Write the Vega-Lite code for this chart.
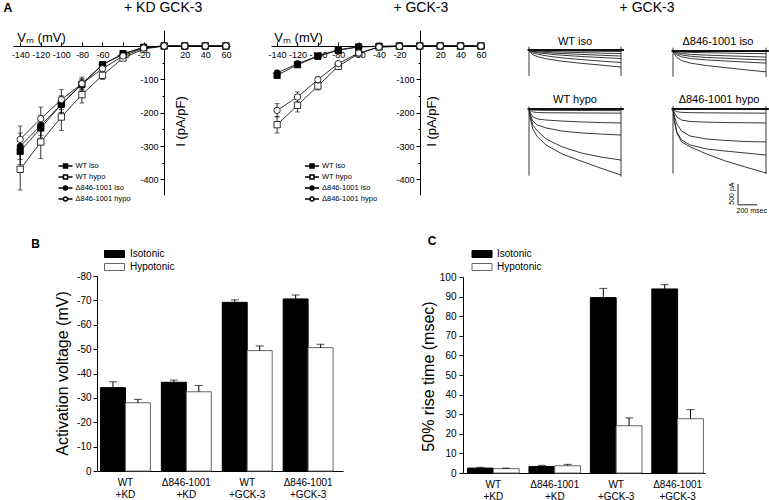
{
"$schema":"https://vega.github.io/schema/vega-lite/v6.json",
"width":769,"height":500,"autosize":{"type":"none"},"padding":0,"background":"white",
"config":{"view":{"stroke":null},"font":"Liberation Sans",
 "axis":{"grid":false,"domainColor":"black","tickColor":"black","labelColor":"black","titleColor":"black","titleFontWeight":"normal","labelFont":"Liberation Sans","titleFont":"Liberation Sans","labelFlush":false,"labelOverlap":false,"domainWidth":1,"tickWidth":1},
 "legend":{"labelFont":"Liberation Sans","labelColor":"black","padding":0},
 "text":{"font":"Liberation Sans","color":"black"}},
"resolve":{"scale":{"x":"independent","y":"independent","fill":"independent","shape":"independent","stroke":"independent","xOffset":"independent"},"axis":{"x":"independent","y":"independent"},"legend":{"fill":"independent","shape":"independent","stroke":"independent"}},
"layer":[
{
 "data":{"values":[
  {"s":"WT iso","v":-140,"i":-316,"e":40},{"s":"WT iso","v":-120,"i":-246,"e":30},{"s":"WT iso","v":-100,"i":-175,"e":25},{"s":"WT iso","v":-80,"i":-115,"e":15},{"s":"WT iso","v":-60,"i":-56,"e":8},{"s":"WT iso","v":-40,"i":-23,"e":5},{"s":"WT iso","v":-20,"i":-4,"e":2},{"s":"WT iso","v":0,"i":0,"e":0},{"s":"WT iso","v":20,"i":0,"e":0},{"s":"WT iso","v":40,"i":0,"e":0},{"s":"WT iso","v":60,"i":0,"e":0},
  {"s":"WT hypo","v":-140,"i":-370,"e":62},{"s":"WT hypo","v":-120,"i":-288,"e":50},{"s":"WT hypo","v":-100,"i":-213,"e":40},{"s":"WT hypo","v":-80,"i":-146,"e":25},{"s":"WT hypo","v":-60,"i":-88,"e":12},{"s":"WT hypo","v":-40,"i":-36,"e":6},{"s":"WT hypo","v":-20,"i":-9,"e":3},{"s":"WT hypo","v":0,"i":0,"e":0},{"s":"WT hypo","v":20,"i":0,"e":0},{"s":"WT hypo","v":40,"i":0,"e":0},{"s":"WT hypo","v":60,"i":0,"e":0},
  {"s":"Δ846-1001 iso","v":-140,"i":-301,"e":40},{"s":"Δ846-1001 iso","v":-120,"i":-238,"e":30},{"s":"Δ846-1001 iso","v":-100,"i":-175,"e":25},{"s":"Δ846-1001 iso","v":-80,"i":-113,"e":15},{"s":"Δ846-1001 iso","v":-60,"i":-56,"e":8},{"s":"Δ846-1001 iso","v":-40,"i":-25,"e":4},{"s":"Δ846-1001 iso","v":-20,"i":-4,"e":2},{"s":"Δ846-1001 iso","v":0,"i":0,"e":0},{"s":"Δ846-1001 iso","v":20,"i":0,"e":0},{"s":"Δ846-1001 iso","v":40,"i":0,"e":0},{"s":"Δ846-1001 iso","v":60,"i":0,"e":0},
  {"s":"Δ846-1001 hypo","v":-140,"i":-280,"e":40},{"s":"Δ846-1001 hypo","v":-120,"i":-218,"e":35},{"s":"Δ846-1001 hypo","v":-100,"i":-161,"e":30},{"s":"Δ846-1001 hypo","v":-80,"i":-113,"e":20},{"s":"Δ846-1001 hypo","v":-60,"i":-68,"e":10},{"s":"Δ846-1001 hypo","v":-40,"i":-30,"e":5},{"s":"Δ846-1001 hypo","v":-20,"i":-6,"e":2},{"s":"Δ846-1001 hypo","v":0,"i":0,"e":0},{"s":"Δ846-1001 hypo","v":20,"i":0,"e":0},{"s":"Δ846-1001 hypo","v":40,"i":0,"e":0},{"s":"Δ846-1001 hypo","v":60,"i":0,"e":0}
 ]},
 "layer":[
  {"mark":{"type":"line","color":"black","strokeWidth":0.8},
   "encoding":{
    "x":{"field":"v","type":"quantitative","title":"Vₘ (mV)","scale":{"domain":[-147,64],"range":[13,230],"nice":false,"zero":false},
      "axis":{"orient":"bottom","offset":-454,"values":[-140,-130,-120,-110,-100,-90,-80,-70,-60,-50,-40,-30,-20,-10,0,10,20,30,40,50,60],"labelExpr":"datum.value % 20 == 0 && datum.value != 0 ? '' + datum.value : ''","tickSize":{"condition":{"test":"datum.value % 20 == 0","value":-4},"value":-2},"labelPadding":8,"labelFontSize":9,"title":"Vₘ (mV)","titleFontSize":13,"titleX":41,"titleY":-9,"titleAngle":0,"titleAlign":"center","titleBaseline":"middle"}},
    "y":{"field":"i","type":"quantitative","title":"I (pA/pF)","scale":{"domain":[-447,48],"range":[195,30],"nice":false,"zero":false},
      "axis":{"orient":"left","offset":-164,"values":[-400,-350,-300,-250,-200,-150,-100,-50],"labelExpr":"datum.value % 100 == 0 ? '' + datum.value : ''","tickSize":{"condition":{"test":"datum.value % 100 == 0","value":4},"value":2},"labelPadding":2,"labelFontSize":9,"title":"I (pA/pF)","titleFontSize":13,"titleX":16,"titleY":121,"titleAngle":270,"titleAlign":"center","titleBaseline":"middle"}},
    "detail":{"field":"s"}}},
  {"transform":[{"filter":"datum.e > 0"}],"mark":{"type":"errorbar","color":"black","thickness":0.8,"ticks":{"size":5,"color":"black"}},
   "encoding":{"x":{"field":"v","type":"quantitative","title":"Vₘ (mV)"},"y":{"field":"i","type":"quantitative","title":"I (pA/pF)"},"yError":{"field":"e"}}},
  {"mark":{"type":"point","filled":true,"stroke":"black","strokeWidth":0.8,"size":40,"opacity":1},
   "encoding":{"x":{"field":"v","type":"quantitative","title":"Vₘ (mV)"},"y":{"field":"i","type":"quantitative","title":"I (pA/pF)"},
    "shape":{"field":"s","type":"nominal","scale":{"domain":["WT iso","WT hypo","Δ846-1001 iso","Δ846-1001 hypo"],"range":["square","square","circle","circle"]},"legend":null},
    "fill":{"field":"s","type":"nominal","scale":{"domain":["WT iso","WT hypo","Δ846-1001 iso","Δ846-1001 hypo"],"range":["black","white","black","white"]},"legend":null}}},
  {"data":{"values":[{}]},"mark":{"type":"text","fontSize":14,"baseline":"middle"},"encoding":{"x":{"datum":-1,"type":"quantitative"},"y":{"datum":114,"type":"quantitative"},"text":{"value":"+ KD GCK-3"}}},
  {"data":{"values":[{}]},"mark":{"type":"text","fontSize":12,"fontWeight":"bold","baseline":"middle"},"encoding":{"x":{"datum":-152,"type":"quantitative"},"y":{"datum":114,"type":"quantitative"},"text":{"value":"A"}}},
  {"data":{"values":[{}]},"mark":{"type":"text","fontSize":12,"fontWeight":"bold","baseline":"middle"},"encoding":{"x":{"datum":-125,"type":"quantitative"},"y":{"datum":-594,"type":"quantitative"},"text":{"value":"B"}}}
 ]
},
{
 "data":{"values":[{"s":"WT iso"}]},
 "transform":[{"filter":"false"}],
 "mark":{"type":"point","filled":true,"stroke":"black","strokeWidth":0.8,"opacity":1},
 "encoding":{
  "shape":{"field":"s","type":"nominal","scale":{"domain":["WT iso","WT hypo","Δ846-1001 iso","Δ846-1001 hypo"],"range":["M-1.75,0H-0.5M0.5,0H1.75M-0.5,-0.5H0.5V0.5H-0.5Z","M-1.75,0H-0.5M0.5,0H1.75M-0.5,-0.5H0.5V0.5H-0.5Z","M-1.75,0H-0.5M0.5,0H1.75M-0.5,0A0.5,0.5 0 1,0 0.5,0A0.5,0.5 0 1,0 -0.5,0Z","M-1.75,0H-0.5M0.5,0H1.75M-0.5,0A0.5,0.5 0 1,0 0.5,0A0.5,0.5 0 1,0 -0.5,0Z"]},
   "legend":{"orient":"none","legendX":60.5,"legendY":161,"title":null,"symbolSize":64,"labelFontSize":7.5,"labelOffset":5,"rowPadding":1,"padding":0,"encode":{"symbols":{"update":{"stroke":{"value":"black"},"strokeWidth":{"value":0.8},"opacity":{"value":1}}}}}},
  "fill":{"field":"s","type":"nominal","scale":{"domain":["WT iso","WT hypo","Δ846-1001 iso","Δ846-1001 hypo"],"range":["black","white","black","white"]},
   "legend":{"orient":"none","legendX":60.5,"legendY":161,"title":null,"symbolSize":64,"labelFontSize":7.5,"labelOffset":5,"rowPadding":1,"padding":0,"encode":{"symbols":{"update":{"stroke":{"value":"black"},"strokeWidth":{"value":0.8},"opacity":{"value":1}}}}}}
 }
},
{
 "data":{"values":[
  {"s":"WT iso","v":-140,"i":-88,"e":6},{"s":"WT iso","v":-120,"i":-56,"e":4},{"s":"WT iso","v":-100,"i":-31,"e":3},{"s":"WT iso","v":-80,"i":-13,"e":2},{"s":"WT iso","v":-60,"i":-3,"e":1},{"s":"WT iso","v":-40,"i":-1,"e":0},{"s":"WT iso","v":-20,"i":0,"e":0},{"s":"WT iso","v":0,"i":0,"e":0},{"s":"WT iso","v":20,"i":0,"e":0},{"s":"WT iso","v":40,"i":0,"e":0},{"s":"WT iso","v":60,"i":0,"e":0},
  {"s":"WT hypo","v":-140,"i":-236,"e":25},{"s":"WT hypo","v":-120,"i":-178,"e":20},{"s":"WT hypo","v":-100,"i":-120,"e":12},{"s":"WT hypo","v":-80,"i":-61,"e":8},{"s":"WT hypo","v":-60,"i":-23,"e":5},{"s":"WT hypo","v":-40,"i":-3,"e":2},{"s":"WT hypo","v":-20,"i":-1,"e":0},{"s":"WT hypo","v":0,"i":0,"e":0},{"s":"WT hypo","v":20,"i":0,"e":0},{"s":"WT hypo","v":40,"i":0,"e":0},{"s":"WT hypo","v":60,"i":0,"e":0},
  {"s":"Δ846-1001 iso","v":-140,"i":-81,"e":5},{"s":"Δ846-1001 iso","v":-120,"i":-53,"e":4},{"s":"Δ846-1001 iso","v":-100,"i":-30,"e":3},{"s":"Δ846-1001 iso","v":-80,"i":-11,"e":2},{"s":"Δ846-1001 iso","v":-60,"i":-2,"e":1},{"s":"Δ846-1001 iso","v":-40,"i":-1,"e":0},{"s":"Δ846-1001 iso","v":-20,"i":0,"e":0},{"s":"Δ846-1001 iso","v":0,"i":0,"e":0},{"s":"Δ846-1001 iso","v":20,"i":0,"e":0},{"s":"Δ846-1001 iso","v":40,"i":0,"e":0},{"s":"Δ846-1001 iso","v":60,"i":0,"e":0},
  {"s":"Δ846-1001 hypo","v":-140,"i":-193,"e":20},{"s":"Δ846-1001 hypo","v":-120,"i":-153,"e":15},{"s":"Δ846-1001 hypo","v":-100,"i":-101,"e":8},{"s":"Δ846-1001 hypo","v":-80,"i":-53,"e":5},{"s":"Δ846-1001 hypo","v":-60,"i":-21,"e":3},{"s":"Δ846-1001 hypo","v":-40,"i":-3,"e":1},{"s":"Δ846-1001 hypo","v":-20,"i":-1,"e":0},{"s":"Δ846-1001 hypo","v":0,"i":0,"e":0},{"s":"Δ846-1001 hypo","v":20,"i":0,"e":0},{"s":"Δ846-1001 hypo","v":40,"i":0,"e":0},{"s":"Δ846-1001 hypo","v":60,"i":0,"e":0}
 ]},
 "layer":[
  {"mark":{"type":"line","color":"black","strokeWidth":0.8},
   "encoding":{
    "x":{"field":"v","type":"quantitative","title":"Vₘ (mV)","scale":{"domain":[-146,63],"range":[271,484],"nice":false,"zero":false},
      "axis":{"orient":"bottom","offset":-454,"values":[-140,-130,-120,-110,-100,-90,-80,-70,-60,-50,-40,-30,-20,-10,0,10,20,30,40,50,60],"labelExpr":"datum.value % 20 == 0 && datum.value != 0 ? '' + datum.value : ''","tickSize":{"condition":{"test":"datum.value % 20 == 0","value":-4},"value":-2},"labelPadding":8,"labelFontSize":9,"title":"Vₘ (mV)","titleFontSize":13,"titleX":298,"titleY":-9,"titleAngle":0,"titleAlign":"center","titleBaseline":"middle"}},
    "y":{"field":"i","type":"quantitative","title":"I (pA/pF)","scale":{"domain":[-447,48],"range":[195,30],"nice":false,"zero":false},
      "axis":{"orient":"left","offset":-420,"values":[-400,-350,-300,-250,-200,-150,-100,-50],"labelExpr":"datum.value % 100 == 0 ? '' + datum.value : ''","tickSize":{"condition":{"test":"datum.value % 100 == 0","value":4},"value":2},"labelPadding":2,"labelFontSize":9,"title":"I (pA/pF)","titleFontSize":13,"titleX":11,"titleY":121,"titleAngle":270,"titleAlign":"center","titleBaseline":"middle"}},
    "detail":{"field":"s"}}},
  {"transform":[{"filter":"datum.e > 0"}],"mark":{"type":"errorbar","color":"black","thickness":0.8,"ticks":{"size":5,"color":"black"}},
   "encoding":{"x":{"field":"v","type":"quantitative","title":"Vₘ (mV)"},"y":{"field":"i","type":"quantitative","title":"I (pA/pF)"},"yError":{"field":"e"}}},
  {"mark":{"type":"point","filled":true,"stroke":"black","strokeWidth":0.8,"size":40,"opacity":1},
   "encoding":{"x":{"field":"v","type":"quantitative","title":"Vₘ (mV)"},"y":{"field":"i","type":"quantitative","title":"I (pA/pF)"},
    "shape":{"field":"s","type":"nominal","scale":{"domain":["WT iso","WT hypo","Δ846-1001 iso","Δ846-1001 hypo"],"range":["square","square","circle","circle"]},"legend":null},
    "fill":{"field":"s","type":"nominal","scale":{"domain":["WT iso","WT hypo","Δ846-1001 iso","Δ846-1001 hypo"],"range":["black","white","black","white"]},"legend":null}}},
  {"data":{"values":[{}]},"mark":{"type":"text","fontSize":14,"baseline":"middle"},"encoding":{"x":{"datum":1,"type":"quantitative"},"y":{"datum":114,"type":"quantitative"},"text":{"value":"+ GCK-3"}}},
  {"data":{"values":[{}]},"mark":{"type":"text","fontSize":12,"fontWeight":"bold","baseline":"middle"},"encoding":{"x":{"datum":12,"type":"quantitative"},"y":{"datum":-585,"type":"quantitative"},"text":{"value":"C"}}}
 ]
},
{
 "data":{"values":[{"s":"WT iso"}]},
 "transform":[{"filter":"false"}],
 "mark":{"type":"point","filled":true,"stroke":"black","strokeWidth":0.8,"opacity":1},
 "encoding":{
  "shape":{"field":"s","type":"nominal","scale":{"domain":["WT iso","WT hypo","Δ846-1001 iso","Δ846-1001 hypo"],"range":["M-1.75,0H-0.5M0.5,0H1.75M-0.5,-0.5H0.5V0.5H-0.5Z","M-1.75,0H-0.5M0.5,0H1.75M-0.5,-0.5H0.5V0.5H-0.5Z","M-1.75,0H-0.5M0.5,0H1.75M-0.5,0A0.5,0.5 0 1,0 0.5,0A0.5,0.5 0 1,0 -0.5,0Z","M-1.75,0H-0.5M0.5,0H1.75M-0.5,0A0.5,0.5 0 1,0 0.5,0A0.5,0.5 0 1,0 -0.5,0Z"]},
   "legend":{"orient":"none","legendX":307,"legendY":161,"title":null,"symbolSize":64,"labelFontSize":7.5,"labelOffset":5,"rowPadding":1,"padding":0,"encode":{"symbols":{"update":{"stroke":{"value":"black"},"strokeWidth":{"value":0.8},"opacity":{"value":1}}}}}},
  "fill":{"field":"s","type":"nominal","scale":{"domain":["WT iso","WT hypo","Δ846-1001 iso","Δ846-1001 hypo"],"range":["black","white","black","white"]},
   "legend":{"orient":"none","legendX":307,"legendY":161,"title":null,"symbolSize":64,"labelFontSize":7.5,"labelOffset":5,"rowPadding":1,"padding":0,"encode":{"symbols":{"update":{"stroke":{"value":"black"},"strokeWidth":{"value":0.8},"opacity":{"value":1}}}}}}
 }
},
{
 "data":{"values":[
  {"k":"1","t":0,"i":0},{"k":"1","t":15,"i":-60},{"k":"1","t":40,"i":-110},{"k":"1","t":90,"i":-160},{"k":"1","t":180,"i":-210},{"k":"1","t":350,"i":-270},{"k":"1","t":550,"i":-320},{"k":"1","t":750,"i":-360},{"k":"1","t":970,"i":-410},
  {"k":"2","t":0,"i":0},{"k":"2","t":15,"i":-40},{"k":"2","t":40,"i":-70},{"k":"2","t":90,"i":-100},{"k":"2","t":180,"i":-140},{"k":"2","t":350,"i":-190},{"k":"2","t":550,"i":-230},{"k":"2","t":750,"i":-265},{"k":"2","t":970,"i":-300},
  {"k":"3","t":0,"i":0},{"k":"3","t":15,"i":-25},{"k":"3","t":40,"i":-45},{"k":"3","t":90,"i":-65},{"k":"3","t":180,"i":-90},{"k":"3","t":350,"i":-125},{"k":"3","t":550,"i":-155},{"k":"3","t":750,"i":-180},{"k":"3","t":970,"i":-205},
  {"k":"4","t":0,"i":0},{"k":"4","t":15,"i":-15},{"k":"4","t":40,"i":-30},{"k":"4","t":90,"i":-45},{"k":"4","t":180,"i":-60},{"k":"4","t":350,"i":-85},{"k":"4","t":550,"i":-105},{"k":"4","t":750,"i":-125},{"k":"4","t":970,"i":-145},
  {"k":"5","t":0,"i":0},{"k":"5","t":15,"i":-10},{"k":"5","t":40,"i":-18},{"k":"5","t":90,"i":-25},{"k":"5","t":180,"i":-35},{"k":"5","t":350,"i":-50},{"k":"5","t":550,"i":-62},{"k":"5","t":750,"i":-74},{"k":"5","t":970,"i":-85},
  {"k":"6","t":0,"i":0},{"k":"6","t":15,"i":-5},{"k":"6","t":40,"i":-8},{"k":"6","t":90,"i":-12},{"k":"6","t":180,"i":-16},{"k":"6","t":350,"i":-22},{"k":"6","t":550,"i":-27},{"k":"6","t":750,"i":-31},{"k":"6","t":970,"i":-35}
 ]},
 "layer":[
  {"mark":{"type":"line","color":"#222222","strokeWidth":0.9},
   "encoding":{"x":{"field":"t","type":"quantitative","scale":{"domain":[0,970],"range":[529,621],"nice":false,"zero":false},"axis":null},
    "y":{"field":"i","type":"quantitative","scale":{"domain":[-2400,400],"range":[150,33.33],"nice":false,"zero":false},"axis":null},
    "detail":{"field":"k"}}},
  {"data":{"values":[{"t":0,"top":80,"bot":-620},{"t":970,"top":80,"bot":-620}]},"mark":{"type":"rule","color":"#222222","strokeWidth":0.9},
   "encoding":{"x":{"field":"t","type":"quantitative","axis":null},"y":{"field":"top","type":"quantitative","axis":null},"y2":{"field":"bot"}}},
  {"data":{"values":[{"a":-15,"b":1000,"i":0}]},"mark":{"type":"rule","color":"#111111","strokeWidth":1.8},
   "encoding":{"x":{"field":"a","type":"quantitative","axis":null},"x2":{"field":"b"},"y":{"field":"i","type":"quantitative","axis":null}}},
  {"data":{"values":[{}]},"mark":{"type":"text","fontSize":11,"baseline":"middle"},"encoding":{"x":{"datum":485,"type":"quantitative","axis":null},"y":{"datum":192,"type":"quantitative","axis":null},"text":{"value":"WT iso"}}},
  {"data":{"values":[{}]},"mark":{"type":"text","fontSize":14,"baseline":"middle"},"encoding":{"x":{"datum":1244,"type":"quantitative","axis":null},"y":{"datum":1008,"type":"quantitative","axis":null},"text":{"value":"+ GCK-3"}}}
 ]
},
{
 "data":{"values":[
  {"k":"1","t":0,"i":0},{"k":"1","t":15,"i":-80},{"k":"1","t":40,"i":-150},{"k":"1","t":90,"i":-230},{"k":"1","t":180,"i":-290},{"k":"1","t":350,"i":-350},{"k":"1","t":550,"i":-400},{"k":"1","t":750,"i":-450},{"k":"1","t":970,"i":-500},
  {"k":"2","t":0,"i":0},{"k":"2","t":15,"i":-50},{"k":"2","t":40,"i":-95},{"k":"2","t":90,"i":-140},{"k":"2","t":180,"i":-180},{"k":"2","t":350,"i":-215},{"k":"2","t":550,"i":-240},{"k":"2","t":750,"i":-265},{"k":"2","t":970,"i":-290},
  {"k":"3","t":0,"i":0},{"k":"3","t":15,"i":-30},{"k":"3","t":40,"i":-60},{"k":"3","t":90,"i":-95},{"k":"3","t":180,"i":-125},{"k":"3","t":350,"i":-155},{"k":"3","t":550,"i":-175},{"k":"3","t":750,"i":-195},{"k":"3","t":970,"i":-215},
  {"k":"4","t":0,"i":0},{"k":"4","t":15,"i":-20},{"k":"4","t":40,"i":-40},{"k":"4","t":90,"i":-60},{"k":"4","t":180,"i":-80},{"k":"4","t":350,"i":-100},{"k":"4","t":550,"i":-115},{"k":"4","t":750,"i":-130},{"k":"4","t":970,"i":-145},
  {"k":"5","t":0,"i":0},{"k":"5","t":15,"i":-10},{"k":"5","t":40,"i":-18},{"k":"5","t":90,"i":-26},{"k":"5","t":180,"i":-34},{"k":"5","t":350,"i":-42},{"k":"5","t":550,"i":-50},{"k":"5","t":750,"i":-58},{"k":"5","t":970,"i":-65}
 ]},
 "layer":[
  {"mark":{"type":"line","color":"#222222","strokeWidth":0.9},
   "encoding":{"x":{"field":"t","type":"quantitative","scale":{"domain":[0,970],"range":[673,766],"nice":false,"zero":false},"axis":null},
    "y":{"field":"i","type":"quantitative","scale":{"domain":[-2400,400],"range":[151,34.33],"nice":false,"zero":false},"axis":null},
    "detail":{"field":"k"}}},
  {"data":{"values":[{"t":0,"top":80,"bot":-620},{"t":970,"top":80,"bot":-620}]},"mark":{"type":"rule","color":"#222222","strokeWidth":0.9},
   "encoding":{"x":{"field":"t","type":"quantitative","axis":null},"y":{"field":"top","type":"quantitative","axis":null},"y2":{"field":"bot"}}},
  {"data":{"values":[{"a":-15,"b":1000,"i":0}]},"mark":{"type":"rule","color":"#111111","strokeWidth":1.8},
   "encoding":{"x":{"field":"a","type":"quantitative","axis":null},"x2":{"field":"b"},"y":{"field":"i","type":"quantitative","axis":null}}},
  {"data":{"values":[{}]},"mark":{"type":"text","fontSize":11,"baseline":"middle"},"encoding":{"x":{"datum":469,"type":"quantitative","axis":null},"y":{"datum":216,"type":"quantitative","axis":null},"text":{"value":"Δ846-1001 iso"}}}
 ]
},
{
 "data":{"values":[
  {"k":"1","t":0,"i":0},{"k":"1","t":15,"i":-240},{"k":"1","t":40,"i":-480},{"k":"1","t":90,"i":-670},{"k":"1","t":180,"i":-865},{"k":"1","t":350,"i":-1080},{"k":"1","t":550,"i":-1250},{"k":"1","t":750,"i":-1415},{"k":"1","t":970,"i":-1585},
  {"k":"2","t":0,"i":0},{"k":"2","t":15,"i":-190},{"k":"2","t":40,"i":-385},{"k":"2","t":90,"i":-530},{"k":"2","t":180,"i":-720},{"k":"2","t":350,"i":-910},{"k":"2","t":550,"i":-1055},{"k":"2","t":750,"i":-1150},{"k":"2","t":970,"i":-1225},
  {"k":"3","t":0,"i":0},{"k":"3","t":15,"i":-145},{"k":"3","t":40,"i":-290},{"k":"3","t":90,"i":-385},{"k":"3","t":180,"i":-455},{"k":"3","t":350,"i":-530},{"k":"3","t":550,"i":-575},{"k":"3","t":750,"i":-600},{"k":"3","t":970,"i":-625},
  {"k":"4","t":0,"i":0},{"k":"4","t":15,"i":-95},{"k":"4","t":40,"i":-190},{"k":"4","t":90,"i":-240},{"k":"4","t":180,"i":-265},{"k":"4","t":350,"i":-290},{"k":"4","t":550,"i":-310},{"k":"4","t":750,"i":-325},{"k":"4","t":970,"i":-335},
  {"k":"5","t":0,"i":0},{"k":"5","t":15,"i":-35},{"k":"5","t":40,"i":-70},{"k":"5","t":90,"i":-85},{"k":"5","t":180,"i":-90},{"k":"5","t":350,"i":-92},{"k":"5","t":550,"i":-95},{"k":"5","t":750,"i":-97},{"k":"5","t":970,"i":-100},
  {"k":"6","t":0,"i":0},{"k":"6","t":15,"i":-15},{"k":"6","t":40,"i":-25},{"k":"6","t":90,"i":-30},{"k":"6","t":180,"i":-32},{"k":"6","t":350,"i":-34},{"k":"6","t":550,"i":-36},{"k":"6","t":750,"i":-38},{"k":"6","t":970,"i":-40}
 ]},
 "layer":[
  {"mark":{"type":"line","color":"#222222","strokeWidth":0.9},
   "encoding":{"x":{"field":"t","type":"quantitative","scale":{"domain":[0,970],"range":[529,621],"nice":false,"zero":false},"axis":null},
    "y":{"field":"i","type":"quantitative","scale":{"domain":[-2400,400],"range":[209,92.33],"nice":false,"zero":false},"axis":null},
    "detail":{"field":"k"}}},
  {"data":{"values":[{"t":0,"top":60,"bot":-1600},{"t":970,"top":60,"bot":-1620}]},"mark":{"type":"rule","color":"#222222","strokeWidth":0.9},
   "encoding":{"x":{"field":"t","type":"quantitative","axis":null},"y":{"field":"top","type":"quantitative","axis":null},"y2":{"field":"bot"}}},
  {"data":{"values":[{"a":-15,"b":1000,"i":0}]},"mark":{"type":"rule","color":"#111111","strokeWidth":1.8},
   "encoding":{"x":{"field":"a","type":"quantitative","axis":null},"x2":{"field":"b"},"y":{"field":"i","type":"quantitative","axis":null}}},
  {"data":{"values":[{}]},"mark":{"type":"text","fontSize":11,"baseline":"middle"},"encoding":{"x":{"datum":485,"type":"quantitative","axis":null},"y":{"datum":216,"type":"quantitative","axis":null},"text":{"value":"WT hypo"}}}
 ]
},
{
 "data":{"values":[
  {"k":"1","t":0,"i":0},{"k":"1","t":15,"i":-290},{"k":"1","t":40,"i":-575},{"k":"1","t":90,"i":-790},{"k":"1","t":180,"i":-910},{"k":"1","t":350,"i":-1080},{"k":"1","t":550,"i":-1250},{"k":"1","t":750,"i":-1390},{"k":"1","t":970,"i":-1535},
  {"k":"2","t":0,"i":0},{"k":"2","t":15,"i":-290},{"k":"2","t":40,"i":-550},{"k":"2","t":90,"i":-745},{"k":"2","t":180,"i":-865},{"k":"2","t":350,"i":-960},{"k":"2","t":550,"i":-1010},{"k":"2","t":750,"i":-1055},{"k":"2","t":970,"i":-1105},
  {"k":"3","t":0,"i":0},{"k":"3","t":15,"i":-170},{"k":"3","t":40,"i":-360},{"k":"3","t":90,"i":-530},{"k":"3","t":180,"i":-650},{"k":"3","t":350,"i":-720},{"k":"3","t":550,"i":-755},{"k":"3","t":750,"i":-780},{"k":"3","t":970,"i":-790},
  {"k":"4","t":0,"i":0},{"k":"4","t":15,"i":-95},{"k":"4","t":40,"i":-190},{"k":"4","t":90,"i":-265},{"k":"4","t":180,"i":-300},{"k":"4","t":350,"i":-315},{"k":"4","t":550,"i":-325},{"k":"4","t":750,"i":-330},{"k":"4","t":970,"i":-335},
  {"k":"5","t":0,"i":0},{"k":"5","t":15,"i":-35},{"k":"5","t":40,"i":-65},{"k":"5","t":90,"i":-80},{"k":"5","t":180,"i":-88},{"k":"5","t":350,"i":-92},{"k":"5","t":550,"i":-95},{"k":"5","t":750,"i":-97},{"k":"5","t":970,"i":-100}
 ]},
 "layer":[
  {"mark":{"type":"line","color":"#222222","strokeWidth":0.9},
   "encoding":{"x":{"field":"t","type":"quantitative","scale":{"domain":[0,970],"range":[673,766],"nice":false,"zero":false},"axis":null},
    "y":{"field":"i","type":"quantitative","scale":{"domain":[-2400,400],"range":[209,92.33],"nice":false,"zero":false},"axis":null},
    "detail":{"field":"k"}}},
  {"data":{"values":[{"t":0,"top":70,"bot":-1550},{"t":970,"top":70,"bot":-1560}]},"mark":{"type":"rule","color":"#222222","strokeWidth":0.9},
   "encoding":{"x":{"field":"t","type":"quantitative","axis":null},"y":{"field":"top","type":"quantitative","axis":null},"y2":{"field":"bot"}}},
  {"data":{"values":[{"a":-15,"b":1000,"i":0}]},"mark":{"type":"rule","color":"#111111","strokeWidth":1.8},
   "encoding":{"x":{"field":"a","type":"quantitative","axis":null},"x2":{"field":"b"},"y":{"field":"i","type":"quantitative","axis":null}}},
  {"data":{"values":[{"t":678,"top":-1800,"bot":-2300}]},"mark":{"type":"rule","color":"#222222","strokeWidth":1},
   "encoding":{"x":{"field":"t","type":"quantitative","axis":null},"y":{"field":"top","type":"quantitative","axis":null},"y2":{"field":"bot"}}},
  {"data":{"values":[{"a":678,"b":878,"i":-2300}]},"mark":{"type":"rule","color":"#222222","strokeWidth":1},
   "encoding":{"x":{"field":"a","type":"quantitative","axis":null},"x2":{"field":"b"},"y":{"field":"i","type":"quantitative","axis":null}}},
  {"data":{"values":[{}]},"mark":{"type":"text","fontSize":11,"baseline":"middle"},"encoding":{"x":{"datum":480,"type":"quantitative","axis":null},"y":{"datum":216,"type":"quantitative","axis":null},"text":{"value":"Δ846-1001 hypo"}}},
  {"data":{"values":[{}]},"mark":{"type":"text","fontSize":7,"baseline":"middle","angle":270},"encoding":{"x":{"datum":612,"type":"quantitative","axis":null},"y":{"datum":-2030,"type":"quantitative","axis":null},"text":{"value":"500 pA"}}},
  {"data":{"values":[{}]},"mark":{"type":"text","fontSize":7,"baseline":"middle"},"encoding":{"x":{"datum":821,"type":"quantitative","axis":null},"y":{"datum":-2448,"type":"quantitative","axis":null},"text":{"value":"200 msec"}}}
 ]
},
{
 "data":{"values":[
  {"g":"WT|+KD","c":"Isotonic","v":-34.2,"h":-36.6},{"g":"WT|+KD","c":"Hypotonic","v":-28.0,"h":-29.4},
  {"g":"Δ846-1001|+KD","c":"Isotonic","v":-36.4,"h":-37.3},{"g":"Δ846-1001|+KD","c":"Hypotonic","v":-32.5,"h":-35.1},
  {"g":"WT|+GCK-3","c":"Isotonic","v":-69.2,"h":-70.2},{"g":"WT|+GCK-3","c":"Hypotonic","v":-49.4,"h":-51.3},
  {"g":"Δ846-1001|+GCK-3","c":"Isotonic","v":-70.6,"h":-72.2},{"g":"Δ846-1001|+GCK-3","c":"Hypotonic","v":-50.6,"h":-52.0}
 ]},
 "layer":[
  {"mark":{"type":"bar","strokeWidth":1},
   "encoding":{
    "x":{"field":"g","type":"nominal","sort":null,"scale":{"domain":["WT|+KD","Δ846-1001|+KD","WT|+GCK-3","Δ846-1001|+GCK-3"],"range":[97,343],"paddingInner":0.18,"paddingOuter":0.11,"align":0.26},
      "axis":{"orient":"bottom","offset":-29,"title":null,"ticks":false,"tickSize":0,"labelPadding":6,"labelFontSize":10,"labelAngle":0,"labelBaseline":"top","labelExpr":"split(datum.label, '|')","labelLineHeight":12}},
    "xOffset":{"field":"c","type":"nominal","sort":null,"scale":{"domain":["Isotonic","Hypotonic"]}},
    "y":{"field":"v","type":"quantitative","scale":{"domain":[0,-80],"range":[471,276],"nice":false,"zero":false},
      "axis":{"orient":"left","offset":-97,"values":[0,-5,-10,-15,-20,-25,-30,-35,-40,-45,-50,-55,-60,-65,-70,-75,-80],"labelExpr":"datum.value % 10 == 0 ? '' + datum.value : ''","tickSize":{"condition":{"test":"datum.value % 10 == 0","value":4},"value":2},"labelPadding":2,"labelFontSize":10,"title":"Activation voltage (mV)","titleFontSize":16,"titleX":-35,"titleY":373,"titleAngle":270,"titleAlign":"center","titleBaseline":"middle"}},
    "fill":{"field":"c","type":"nominal","scale":{"domain":["Isotonic","Hypotonic"],"range":["black","white"]},
      "legend":{"orient":"none","legendX":109.5,"legendY":249,"title":null,"symbolType":"M-2.857,-1H2.857V1H-2.857Z","symbolSize":49,"labelFontSize":10,"labelOffset":10.5,"rowPadding":1,"symbolStrokeWidth":1,"padding":0}},
    "stroke":{"field":"c","type":"nominal","scale":{"domain":["Isotonic","Hypotonic"],"range":["black","#666666"]},
      "legend":{"orient":"none","legendX":109.5,"legendY":249,"title":null,"symbolType":"M-2.857,-1H2.857V1H-2.857Z","symbolSize":49,"labelFontSize":10,"labelOffset":10.5,"rowPadding":1,"symbolStrokeWidth":1,"padding":0}}}},
  {"mark":{"type":"rule","color":"black","strokeWidth":1},
   "encoding":{"x":{"field":"g","type":"nominal","sort":null},"xOffset":{"field":"c","type":"nominal","sort":null},"y":{"field":"v","type":"quantitative"},"y2":{"field":"h"}}},
  {"mark":{"type":"tick","color":"black","thickness":1,"size":8},
   "encoding":{"x":{"field":"g","type":"nominal","sort":null},"xOffset":{"field":"c","type":"nominal","sort":null},"y":{"field":"h","type":"quantitative"}}}
 ]
},
{
 "data":{"values":[
  {"g":"WT|+KD","c":"Isotonic","v":2.5,"h":2.9},{"g":"WT|+KD","c":"Hypotonic","v":2.2,"h":2.5},
  {"g":"Δ846-1001|+KD","c":"Isotonic","v":3.3,"h":3.9},{"g":"Δ846-1001|+KD","c":"Hypotonic","v":3.7,"h":4.4},
  {"g":"WT|+GCK-3","c":"Isotonic","v":89.5,"h":94.2},{"g":"WT|+GCK-3","c":"Hypotonic","v":24.1,"h":28.1},
  {"g":"Δ846-1001|+GCK-3","c":"Isotonic","v":93.9,"h":96.1},{"g":"Δ846-1001|+GCK-3","c":"Hypotonic","v":27.7,"h":32.3}
 ]},
 "layer":[
  {"mark":{"type":"bar","strokeWidth":1},
   "encoding":{
    "x":{"field":"g","type":"nominal","sort":null,"scale":{"domain":["WT|+KD","Δ846-1001|+KD","WT|+GCK-3","Δ846-1001|+GCK-3"],"range":[463,705],"paddingInner":0.16,"paddingOuter":0.05,"align":0.74},
      "axis":{"orient":"bottom","offset":-27,"title":null,"ticks":false,"tickSize":0,"labelPadding":6,"labelFontSize":10,"labelAngle":0,"labelBaseline":"top","labelExpr":"split(datum.label, '|')","labelLineHeight":12}},
    "xOffset":{"field":"c","type":"nominal","sort":null,"scale":{"domain":["Isotonic","Hypotonic"]}},
    "y":{"field":"v","type":"quantitative","scale":{"domain":[0,100],"range":[473,277],"nice":false,"zero":false},
      "axis":{"orient":"left","offset":-463,"values":[0,5,10,15,20,25,30,35,40,45,50,55,60,65,70,75,80,85,90,95,100],"labelExpr":"datum.value % 10 == 0 ? '' + datum.value : ''","tickSize":{"condition":{"test":"datum.value % 10 == 0","value":4},"value":2},"labelPadding":3,"labelFontSize":10,"title":"50% rise time (msec)","titleFontSize":16,"titleX":-35,"titleY":376,"titleAngle":270,"titleAlign":"center","titleBaseline":"middle"}},
    "fill":{"field":"c","type":"nominal","scale":{"domain":["Isotonic","Hypotonic"],"range":["black","white"]},
      "legend":{"orient":"none","legendX":477,"legendY":249,"title":null,"symbolType":"M-2.857,-1H2.857V1H-2.857Z","symbolSize":49,"labelFontSize":10,"labelOffset":10,"rowPadding":1,"symbolStrokeWidth":1,"padding":0}},
    "stroke":{"field":"c","type":"nominal","scale":{"domain":["Isotonic","Hypotonic"],"range":["black","#666666"]},
      "legend":{"orient":"none","legendX":477,"legendY":249,"title":null,"symbolType":"M-2.857,-1H2.857V1H-2.857Z","symbolSize":49,"labelFontSize":10,"labelOffset":10,"rowPadding":1,"symbolStrokeWidth":1,"padding":0}}}},
  {"mark":{"type":"rule","color":"black","strokeWidth":1},
   "encoding":{"x":{"field":"g","type":"nominal","sort":null},"xOffset":{"field":"c","type":"nominal","sort":null},"y":{"field":"v","type":"quantitative"},"y2":{"field":"h"}}},
  {"mark":{"type":"tick","color":"black","thickness":1,"size":8},
   "encoding":{"x":{"field":"g","type":"nominal","sort":null},"xOffset":{"field":"c","type":"nominal","sort":null},"y":{"field":"h","type":"quantitative"}}}
 ]
}
]
}
